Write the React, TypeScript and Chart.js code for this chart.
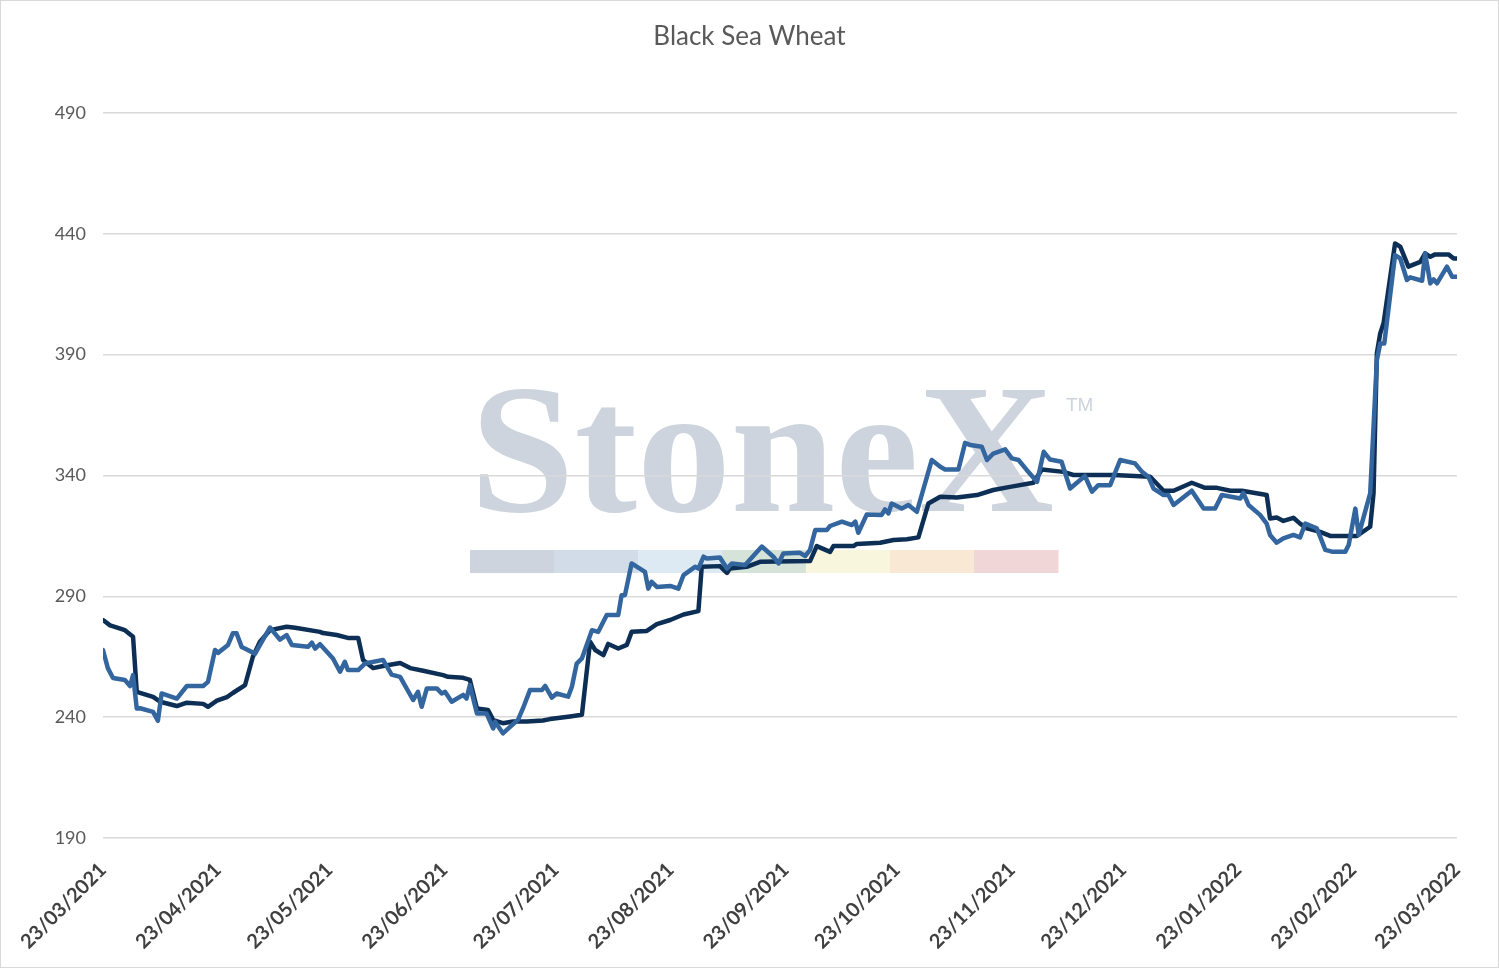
import { Chart, registerables } from 'chart.js'
import { useEffect, useRef } from 'react'

Chart.register(...registerables)

// Дни от 23/03/2021 и подписи месяцев на оси X
const tickDays = [0, 31, 61, 92, 122, 153, 184, 214, 245, 275, 306, 337, 365]
const tickLabels = [
	'23/03/2021', '23/04/2021', '23/05/2021', '23/06/2021', '23/07/2021',
	'23/08/2021', '23/09/2021', '23/10/2021', '23/11/2021', '23/12/2021',
	'23/01/2022', '23/02/2022', '23/03/2022'
]
const yTicks = [190, 240, 290, 340, 390, 440, 490]

// Тёмная линия (ступенчатая)
const darkDays = [
	0, 1.9, 3.2, 5.9, 8.1, 9.1, 13.5, 15.4, 19.9, 22.6, 27, 28.3, 30.7, 33.4, 35,
	38.3, 40.4, 42.3, 45, 49.5, 51.8, 58.5, 59.3, 63, 66, 68.8, 70.1, 72.8, 75.5,
	80.1, 82.8, 86.3, 91.7, 93, 97.1, 98.9, 100.8, 103.8, 105.2, 107.8, 110.5,
	114.3, 118.6, 120.5, 125.9, 129.1, 131.3, 132.7, 134.9, 136.2, 138.9, 141.2,
	142.5, 146.6, 149.3, 152.9, 156.5, 160.5, 161.4, 166.3, 168.2, 169, 173.5,
	177.1, 190.6, 192.4, 196, 196.9, 202.3, 203.2, 209.5, 213.1, 216.7, 219.8,
	222.5, 225.7, 230.2, 235.6, 240, 244.5, 250.8, 253.1, 258.9, 261.6, 272.4,
	282.3, 285.9, 288.6, 293.5, 297.1, 300.3, 303.9, 307, 313.7, 314.6, 316.4,
	318.2, 320.9, 322.7, 324.5, 328.1, 330.8, 338, 341.6, 342.5, 343.4, 344.3,
	345.2, 348.3, 349.7, 351.9, 355.1, 356.4, 357.8, 359.1, 362.7, 364.1, 365
]
const darkValues = [
	280.2, 278, 277.4, 276, 273.3, 250.5, 248.4, 246.4, 244.6, 246, 245.5, 244.3,
	246.8, 248.3, 250, 253.3, 265, 271.2, 276, 277.4, 277, 275.3, 274.8, 274,
	272.8, 272.8, 263.7, 260.3, 261.2, 262.4, 260.3, 259.2, 257.4, 256.7, 256.3,
	255.4, 243.6, 243, 238.8, 237.5, 238.2, 238.2, 238.6, 239.2, 240.3, 241,
	271.2, 267.8, 265.7, 270.3, 268.4, 269.9, 275.3, 275.7, 278.5, 280.2, 282.5,
	283.9, 302.2, 302.5, 299.7, 301.5, 302.2, 304.3, 304.6, 310.8, 308.4, 310.8,
	310.8, 311.7, 312.2, 313.3, 313.6, 314.4, 328.4, 331.2, 330.9, 331.9, 334,
	335.3, 337, 342.5, 341.5, 340.2, 340.2, 339.5, 333.7, 333.7, 337, 334.9,
	334.9, 333.7, 333.7, 331.9, 322.2, 322.6, 321.2, 322.5, 320.1, 318.1, 316.7,
	315, 315, 318.8, 332.6, 390.6, 398.8, 403, 436, 434.7, 426.4, 428.4, 431.9,
	430.5, 431.5, 431.5, 429.8, 429.8
]

// Синяя линия
const blueDays = [
	0, 1.3, 2.7, 5.9, 7.3, 8.1, 9.1, 10, 13.5, 14.8, 15.8, 19.9, 22.6, 27, 28.3,
	30.2, 31, 33.7, 35, 36, 37.4, 41, 45, 47.7, 49.5, 50.9, 55.3, 56.3, 57.2,
	58.5, 62, 63.9, 65.2, 66, 68.8, 70.6, 75.5, 77.8, 80.1, 83.6, 84.9, 85.9,
	87.3, 90, 91.3, 92.2, 94, 97.1, 98, 98.9, 100.8, 103.4, 105.2, 105.7, 107.8,
	111.9, 113.2, 115.1, 118.3, 119.2, 121, 122.3, 125.4, 126.4, 127.7, 129.1,
	131.8, 133.5, 135.8, 138.9, 139.8, 140.7, 142.5, 146.1, 147, 147.9, 149.3,
	152.9, 155.1, 156.5, 159.6, 160.5, 161.9, 162.8, 166.3, 168.2, 169.5, 173.1,
	177.6, 180.7, 182.1, 183.4, 187.9, 189.3, 190.6, 192, 195.1, 196, 199.2,
	201.9, 202.8, 203.6, 205.9, 209.9, 210.8, 211.7, 212.6, 215.3, 217.1, 219.4,
	223.4, 225.7, 227, 230.6, 232.4, 233.8, 236.9, 238.3, 240, 243.2, 245, 246.8,
	249, 251.8, 253.6, 255.3, 258.4, 260.7, 264.7, 266.6, 268.3, 271.5, 274.2,
	278.2, 280.1, 281.8, 283.2, 285.9, 287.2, 288.6, 293.5, 296.7, 299.8, 301.6,
	306.6, 307.4, 308.8, 311.9, 313.7, 314.6, 316.4, 318.2, 320.9, 322.7, 324.1,
	327.2, 328.1, 329.5, 331.3, 334.9, 335.8, 337.6, 338.5, 341.6, 342.5, 343.4,
	344.3, 345.4, 348.3, 349.7, 351.5, 352.4, 355.6, 356.4, 357.8, 358.7, 359.6,
	362.3, 363.7, 365
]
const blueValues = [
	267.8, 260.3, 256.2, 255.4, 252.9, 257.4, 243.6, 243.7, 242.2, 238.5, 249.8,
	247.7, 252.9, 252.9, 254.6, 267.8, 266.6, 269.9, 274.7, 274.7, 269, 266.3,
	277.1, 272.1, 274, 269.9, 269.1, 270.8, 268.4, 270.2, 264.3, 258.8, 262.9,
	259.5, 259.5, 262.2, 263.7, 257.6, 256.7, 247.1, 250.5, 244.3, 251.9, 251.9,
	249.8, 250.5, 246.4, 249.2, 247.7, 253.3, 241.5, 241.5, 235.3, 238.1, 233.3,
	239, 243.6, 251.2, 251.2, 252.9, 248.1, 249.8, 248.5, 252.6, 262.2, 264.3,
	276, 275.3, 282.3, 282.3, 290.5, 290.5, 303.6, 300.1, 293.2, 296, 293.9,
	294.3, 293.2, 298.8, 302.2, 301.5, 306.4, 305.7, 306.1, 301.5, 303.6, 303,
	310.6, 306.4, 303.6, 307.7, 308, 306.7, 309.2, 317.4, 317.4, 319.1, 320.9,
	319.5, 320.9, 316.3, 323.9, 323.7, 326, 324.3, 328.4, 326.3, 327.8, 325,
	346.4, 343.6, 342.5, 342.5, 353.5, 352.6, 351.9, 346.4, 349.1, 350.8, 347.1,
	346.4, 342.3, 337.4, 349.8, 346.6, 345.7, 334.6, 339.8, 333.3, 336, 336,
	346.4, 345, 341.5, 339.5, 334.6, 331.9, 331.9, 327.8, 333.7, 326.3, 326.3,
	331.9, 330.5, 332.8, 327.8, 323.7, 320.1, 315.4, 312.2, 314, 315.4, 314.4,
	320.1, 318.1, 314.7, 309.2, 308.5, 308.5, 311.2, 326.3, 315.4, 332.6, 360.2,
	387.8, 394.6, 394.6, 431.2, 429.8, 420.9, 422, 420.6, 431.9, 419.5, 421.1,
	419.5, 426.4, 422.2, 422.2
]

const toPoints = (xs: number[], ys: number[]) => xs.map((x, i) => ({ x, y: ys[i] }))

// Водяной знак StoneX под сеткой
const watermarkSegments = ['#cdd4dd', '#d2dce8', '#dde9f3', '#d5e3d9', '#f8f6dc', '#f9e8d3', '#f1d6d8']

const watermarkPlugin = {
	id: 'watermark',
	beforeDraw(chart: Chart) {
		const ctx = chart.ctx
		ctx.save()
		const left = 469
		const width = 588
		const segW = width / watermarkSegments.length
		watermarkSegments.forEach((c, i) => {
			ctx.fillStyle = c
			ctx.fillRect(left + i * segW, 549, segW + 0.5, 23)
		})
		ctx.fillStyle = '#cdd4de'
		ctx.font = 'bold 184px "Liberation Serif"'
		ctx.textBaseline = 'alphabetic'
		const w = ctx.measureText('StoneX').width
		ctx.translate(left, 510)
		ctx.scale(584 / w, 1)
		ctx.fillText('StoneX', 0, 0)
		ctx.restore()
		ctx.save()
		ctx.fillStyle = '#cdd4de'
		ctx.font = '19px "Liberation Sans"'
		ctx.textBaseline = 'middle'
		ctx.fillText('TM', 1065, 405)
		ctx.restore()
	}
}

export default function App() {
	const canvasRef = useRef<HTMLCanvasElement | null>(null)

	useEffect(() => {
		document.body.style.margin = '0'
		if (!canvasRef.current) return
		const chart = new Chart(canvasRef.current, {
			type: 'line',
			data: {
				datasets: [
					{
						label: 'Blue',
						data: toPoints(blueDays, blueValues),
						borderColor: '#33659e',
						borderWidth: 4.5,
						pointRadius: 0,
						tension: 0,
						borderJoinStyle: 'round',
						borderCapStyle: 'round'
					},
					{
						label: 'Dark',
						data: toPoints(darkDays, darkValues),
						borderColor: '#0d2f55',
						borderWidth: 4.5,
						pointRadius: 0,
						tension: 0,
						borderJoinStyle: 'round',
						borderCapStyle: 'round'
					}
				]
			},
			options: {
				animation: false,
				responsive: false,
				layout: { padding: { left: 41, right: 41, top: 0, bottom: 0 } },
				scales: {
					x: {
						type: 'linear',
						min: 0,
						max: 365,
						grid: { display: false },
						border: { display: false },
						afterBuildTicks: (scale) => {
							scale.ticks = tickDays.map((v) => ({ value: v }))
						},
						afterFit: (scale) => {
							scale.height = 129
						},
						ticks: {
							autoSkip: false,
							maxRotation: 45,
							minRotation: 45,
							padding: 12,
							color: '#404040',
							font: { family: 'Lato', size: 20, weight: 'bold' },
							callback: (v) => tickLabels[tickDays.indexOf(Number(v))] ?? ''
						}
					},
					y: {
						min: 190,
						max: 490,
						afterBuildTicks: (scale) => {
							scale.ticks = yTicks.map((v) => ({ value: v }))
						},
						afterFit: (scale) => {
							scale.width = 61
						},
						grid: { color: '#d9d9d9', lineWidth: 1.5, drawTicks: false },
						border: { display: false },
						ticks: {
							padding: 17,
							color: '#595959',
							font: { family: 'Lato', size: 18 }
						}
					}
				},
				plugins: {
					legend: { display: false },
					tooltip: { enabled: false },
					title: {
						display: true,
						text: 'Black Sea Wheat',
						color: '#595959',
						font: { family: 'Lato', size: 26, weight: 'normal' },
						padding: { top: 20, bottom: 60.8 }
					}
				}
			},
			plugins: [watermarkPlugin]
		})
		return () => chart.destroy()
	}, [])

	return (
		<div
			style={{
				width: 1499,
				height: 968,
				border: '1px solid #d9d9d9',
				boxSizing: 'border-box',
				background: '#fff'
			}}>
			<canvas ref={canvasRef} width={1497} height={966} style={{ display: 'block' }} />
		</div>
	)
}
